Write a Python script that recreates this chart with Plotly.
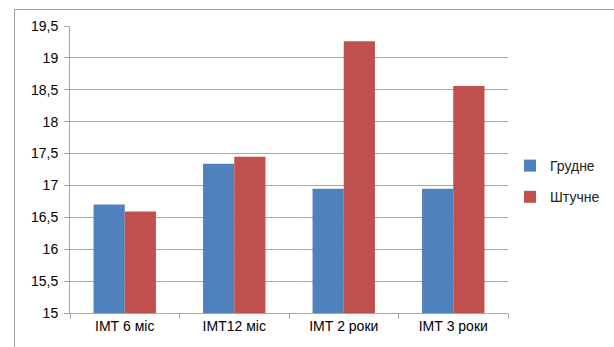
import plotly.graph_objects as go

categories = ["ІМТ 6 міс", "ІМТ12 міс", "ІМТ 2 роки", "ІМТ 3 роки"]
grudne = [16.7, 17.34, 16.95, 16.95]
shtuchne = [16.59, 17.45, 19.26, 18.56]
y_ticks = [15, 15.5, 16, 16.5, 17, 17.5, 18, 18.5, 19, 19.5]
y_tick_text = ["15", "15,5", "16", "16,5", "17", "17,5", "18", "18,5", "19", "19,5"]

FONT = "Liberation Sans"
W, H = 614, 347
L, R, T, B = 70, 106, 26, 34
pw, ph = W - L - R, H - T - B

fig = go.Figure()
fig.add_trace(go.Bar(name="Грудне", x=categories, y=grudne, legendgroup="a",
                     marker=dict(color="#4f81bd", line=dict(width=0))))
fig.add_trace(go.Bar(name="Штучне", x=categories, y=shtuchne, legendgroup="b",
                     marker=dict(color="#c0504d", line=dict(width=0))))

def px(x):
    return (x - L) / pw

def py(y):
    return 1 - (y - T) / ph

fig.update_layout(
    width=W, height=H,
    margin=dict(l=L, r=R, t=T, b=B, autoexpand=False),
    paper_bgcolor="white", plot_bgcolor="white",
    barmode="group", bargap=0.43, bargroupgap=0,
    font=dict(family=FONT, size=14, color="#000000"),
    legend=dict(xref="container", yref="container", x=510 / W, y=1 - 150 / H,
                xanchor="left", yanchor="top",
                font=dict(family=FONT, size=14, color="#222222"),
                itemwidth=30, tracegroupgap=10, bgcolor="rgba(0,0,0,0)"),
    xaxis=dict(showline=True, linecolor="#a6a6a6", linewidth=1,
               ticks="outside", tickson="boundaries", ticklen=5, tickcolor="#a6a6a6",
               showgrid=False, tickfont=dict(family=FONT, size=14, color="#000000")),
    yaxis=dict(range=[15, 19.5], tickvals=y_ticks, ticktext=y_tick_text,
               showline=True, linecolor="#a6a6a6", linewidth=1,
               ticks="outside", ticklen=5, tickcolor="#a6a6a6",
               showgrid=True, gridcolor="#a6a6a6", gridwidth=1,
               ticklabelstandoff=3,
               tickfont=dict(family=FONT, size=14, color="#000000"), zeroline=False),
    shapes=[
        dict(type="line", xref="paper", yref="paper", x0=px(14), x1=px(614),
             y0=py(9.5), y1=py(9.5), line=dict(color="#a0a0a0", width=1)),
        dict(type="line", xref="paper", yref="paper", x0=px(14.5), x1=px(14.5),
             y0=py(9), y1=py(347), line=dict(color="#a0a0a0", width=1)),
    ],
)

fig.write_html("out.html", config={"displayModeBar": False},
               post_script="document.body.style.margin='0';")
